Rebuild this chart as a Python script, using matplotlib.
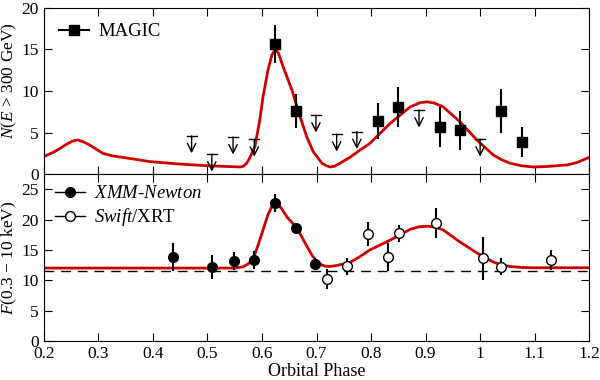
import numpy as np
import matplotlib
matplotlib.use('Agg')
import matplotlib.pyplot as plt
from matplotlib.lines import Line2D

plt.rcParams['font.family'] = ['Liberation Serif', 'DejaVu Serif']
plt.rcParams['mathtext.fontset'] = 'custom'
plt.rcParams['mathtext.rm'] = 'Liberation Serif'
plt.rcParams['mathtext.it'] = 'Liberation Serif:italic'

# MAGIC detections
magic_x = [0.624, 0.662, 0.813, 0.850, 0.927, 0.964, 1.039, 1.077]
magic_y = [15.7, 7.6, 6.4, 8.1, 5.7, 5.3, 7.6, 3.85]
magic_err = [2.3, 2.0, 2.2, 2.4, 2.4, 2.35, 2.7, 1.8]

# MAGIC upper limits
ul_x = [0.471, 0.508, 0.547, 0.586, 0.699, 0.737, 0.774, 0.888, 1.000]
ul_y = [4.6, 2.4, 4.45, 4.2, 7.1, 4.8, 5.1, 7.7, 4.2]

# model curve, top panel
mod_top_x = [0.20, 0.217, 0.230, 0.242, 0.252, 0.262, 0.272, 0.284, 0.296, 0.308,
             0.325, 0.345, 0.370, 0.394, 0.45, 0.499, 0.56, 0.566, 0.572, 0.578,
             0.587, 0.596, 0.602, 0.611, 0.618, 0.624, 0.630, 0.639, 0.655, 0.670,
             0.682, 0.694, 0.710, 0.718, 0.725, 0.733, 0.743, 0.761, 0.780, 0.798,
             0.835, 0.872, 0.890, 0.903, 0.916, 0.932, 0.963, 0.994, 1.024, 1.040,
             1.055, 1.075, 1.097, 1.120, 1.141, 1.160, 1.178, 1.20]
mod_top_y = [2.1, 2.6, 3.1, 3.6, 3.95, 4.1, 3.9, 3.5, 3.0, 2.5,
             2.2, 2.0, 1.75, 1.5, 1.2, 1.0, 0.85, 0.95, 1.3, 2.0,
             3.3, 6.5, 9.3, 12.5, 14.3, 15.0, 14.6, 12.9, 10.1, 6.9,
             4.5, 2.7, 1.3, 1.0, 0.85, 0.95, 1.3, 2.0, 2.9, 3.7,
             6.1, 8.1, 8.6, 8.7, 8.55, 8.1, 6.3, 4.1, 2.3, 1.7,
             1.3, 1.0, 0.85, 0.9, 1.0, 1.1, 1.4, 2.0]

# XMM-Newton
xmm_x = [0.437, 0.508, 0.549, 0.586, 0.624, 0.662, 0.697]
xmm_y = [13.8, 12.2, 13.2, 13.3, 22.7, 18.6, 12.7]
xmm_err = [2.3, 2.0, 1.5, 1.5, 1.5, 0.8, 1.0]

# Swift/XRT
swift_x = [0.719, 0.756, 0.795, 0.832, 0.851, 0.919, 1.005, 1.038, 1.130]
swift_y = [10.2, 12.3, 17.6, 13.8, 17.7, 19.4, 13.6, 12.2, 13.3]
swift_err = [1.7, 1.4, 2.0, 2.3, 1.4, 2.5, 3.5, 1.4, 1.6]

# model curve, bottom panel
mod_bot_x = [0.20, 0.40, 0.55, 0.565, 0.575, 0.584, 0.593, 0.602, 0.611, 0.620,
             0.627, 0.636, 0.646, 0.664, 0.683, 0.692, 0.701, 0.710, 0.719, 0.728,
             0.738, 0.761, 0.780, 0.798, 0.835, 0.872, 0.888, 0.903, 0.918, 0.932,
             0.963, 0.994, 1.024, 1.040, 1.055, 1.075, 1.097, 1.20]
mod_bot_y = [12.0, 12.0, 12.0, 12.2, 12.7, 13.6, 15.8, 18.3, 20.8, 22.5,
             22.7, 21.8, 20.4, 18.6, 15.5, 14.1, 13.0, 12.5, 12.25, 12.3,
             12.45, 12.9, 13.9, 15.0, 16.6, 18.4, 18.8, 18.9, 18.75, 18.3,
             16.3, 14.5, 13.0, 12.5, 12.25, 12.1, 12.05, 12.05]
baseline = 11.5

red = '#cc0000'

fig = plt.figure(figsize=(6, 3.8), dpi=100)
ax1 = fig.add_axes([0.073, 0.542, 0.909, 0.437])
ax2 = fig.add_axes([0.073, 0.103, 0.909, 0.439])

# top panel
ax1.plot(mod_top_x, mod_top_y, color=red, lw=2)
ax1.errorbar(magic_x, magic_y, yerr=magic_err, fmt='s', color='k', ms=7,
             elinewidth=1.5, capsize=0)
for xu, yu in zip(ul_x, ul_y):
    ax1.plot([xu - 0.009, xu + 0.009], [yu, yu], color='k', lw=1)
    ax1.annotate('', xy=(xu, yu - 2.1), xytext=(xu, yu),
                 arrowprops=dict(arrowstyle='->', color='k', lw=1,
                                 shrinkA=0, shrinkB=0, mutation_scale=15))
ax1.set_xlim(0.2, 1.2)
ax1.set_ylim(0, 20)
ax1.set_yticks([0, 5, 10, 15, 20])
ax1.set_xticks(np.arange(0.2, 1.21, 0.1))
ax1.set_xticklabels([])
ax1.set_ylabel(r'$N$($E$ > 300 GeV)', fontsize=12.5)
h1 = Line2D([], [], color='k', marker='s', ms=7, lw=1.5)
ax1.legend([h1], ['MAGIC'], loc='upper left', frameon=False, fontsize=13.5,
           handlelength=1.6, handletextpad=0.5, borderaxespad=0.3,
           borderpad=0.5)

# bottom panel
ax2.axhline(baseline, color='k', lw=1, ls=(0, (7, 5)))
ax2.plot(mod_bot_x, mod_bot_y, color=red, lw=2)
ax2.errorbar(xmm_x, xmm_y, yerr=xmm_err, fmt='o', color='k', ms=7,
             elinewidth=1.5, capsize=0)
ax2.errorbar(swift_x, swift_y, yerr=swift_err, fmt='o', color='k', mfc='white',
             ms=7, elinewidth=1.5, capsize=0)
ax2.set_xlim(0.2, 1.2)
ax2.set_ylim(0, 27.5)
ax2.set_yticks([0, 5, 10, 15, 20, 25])
ax2.set_xticks(np.arange(0.2, 1.21, 0.1))
ax2.set_xticklabels(['0.2', '0.3', '0.4', '0.5', '0.6', '0.7', '0.8', '0.9',
                     '1', '1.1', '1.2'])
ax2.set_xlabel('Orbital Phase', fontsize=13, labelpad=1)
ax2.set_ylabel(r'$F$(0.3 $-$ 10 keV)', fontsize=12.5)
h2 = Line2D([], [], color='k', marker='o', ms=7, lw=1)
h3 = Line2D([], [], color='k', marker='o', mfc='white', ms=7, lw=1)
ax2.legend([h2, h3], [r'$XMM$-$Newton$', r'$Swift$/XRT'], loc='upper left',
           frameon=False, fontsize=13.5, handlelength=1.6, handletextpad=0.5,
           borderaxespad=0.2, labelspacing=0.2)

for ax in (ax1, ax2):
    ax.tick_params(direction='in', top=True, right=True, length=6,
                   labelsize=12.5)
ax1.yaxis.set_label_coords(-0.045, 0.56)
ax2.yaxis.set_label_coords(-0.045, 0.5)

fig.savefig('out.png', dpi=100)
